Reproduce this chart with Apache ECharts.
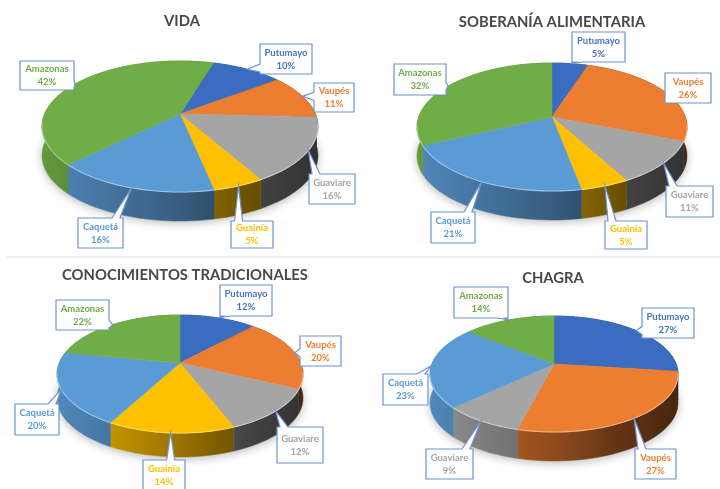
<!DOCTYPE html>
<html><head><meta charset="utf-8">
<style>html,body{margin:0;padding:0;background:#fff}#c{width:720px;height:489px;filter:blur(0.75px)}</style>
<script src="https://cdn.jsdelivr.net/npm/echarts@6/dist/echarts.min.js"></script>
</head><body><div id="c"></div>
<script>
const categories = ['Putumayo','Vaupés','Guaviare','Guainía','Caquetá','Amazonas'];
const vidaValues = [10,11,16,5,16,42];
const soberaniaValues = [5,26,11,5,21,32];
const conocimientosValues = [12,20,12,14,20,22];
const chagraValues = [27,27,9,0,23,14];
const colors = ['#3a6cc0','#ed7d31','#a5a5a5','#ffc000','#5b9bd5','#70ad47'];
const textColors = ['#4472c4','#ed7d31','#a5a5a5','#ffc000','#5b9bd5','#70ad47'];

const panels = [
 {title:'VIDA',tx:182,ty:18,values:vidaValues,ax:180,ay:114,top:61,bottom:192,rx:138,depth:29,start:17,
  boxes:[[260,44,312,74],[314,83,354,112],[309,174,355,204],[231,221,273,248],[78,218,123,248],[20,61,74,90]]},
 {title:'SOBERANÍA ALIMENTARIA',tx:552,ty:19,values:soberaniaValues,ax:552,ay:117,top:63,bottom:191,rx:135,depth:29,start:0,
  boxes:[[572,32,625,62],[665,73,711,103],[666,186,713,217],[605,221,647,249],[431,212,475,243],[394,64,446,95]]},
 {title:'CONOCIMIENTOS TRADICIONALES',tx:185,ty:272,values:conocimientosValues,ax:180,ay:363,top:315,bottom:433,rx:123,depth:24,start:0,
  boxes:[[220,285,272,316],[300,336,341,366],[277,427,323,463],[143,460,185,490],[15,404,59,435],[56,300,109,330]]},
 {title:'CHAGRA',tx:553,ty:275,values:chagraValues,ax:554,ay:364,top:316,bottom:432,rx:124,depth:29,start:0,
  boxes:[[642,308,694,338],[635,449,676,479],[426,449,473,479],[0,0,0,0],[383,374,428,405],[454,287,508,318]]}
];

function project(p,deg){
  const t=deg*Math.PI/180,s=Math.sin(t),c=Math.cos(t);
  const up=p.ay-p.top,dn=p.bottom-p.ay,k=(dn-up)/(dn+up);
  const B=up*(1+k),A=p.rx*Math.sqrt(1-k*k),w=1+k*c;
  return [p.ax+A*s/w,p.ay-B*c/w];
}
function sliceAngles(p,i){
  const total=p.values.reduce((a,b)=>a+b,0);
  let acc=0;for(let j=0;j<i;j++)acc+=p.values[j];
  const a0=p.start+acc/total*360,a1=a0+p.values[i]/total*360;
  return [a0,a1];
}
function arc(p,a0,a1){
  const n=Math.max(2,Math.ceil((a1-a0)/2)),out=[];
  for(let i=0;i<=n;i++)out.push(project(p,a0+(a1-a0)*i/n));
  return out;
}
function scale(hex,f){
  const n=parseInt(hex.slice(1),16);
  const ch=v=>Math.round(v*f);
  return `rgb(${ch(n>>16&255)},${ch(n>>8&255)},${ch(n&255)})`;
}
function mixWhite(hex,f){
  const n=parseInt(hex.slice(1),16);
  const ch=v=>Math.round(v+(255-v)*f);
  return `rgb(${ch(n>>16&255)},${ch(n>>8&255)},${ch(n&255)})`;
}
function sideItem(p){return function(params){
  const i=params.dataIndex;
  if(!p.values[i])return null;
  const [a0,a1]=sliceAngles(p,i);
  const top=arc(p,a0,a1),bot=top.map(q=>[q[0],q[1]+p.depth]).reverse();
  const fill=new echarts.graphic.LinearGradient(p.ax-p.rx,0,p.ax+p.rx,0,[
    {offset:0,color:scale(colors[i],.88)},{offset:.5,color:scale(colors[i],.6)},
    {offset:.75,color:scale(colors[i],.42)},{offset:1,color:scale(colors[i],.3)}],true);
  return {type:'polygon',shape:{points:top.concat(bot)},style:{fill:fill,stroke:fill,lineWidth:.5}};
};}
function topItem(p){return function(params){
  const i=params.dataIndex;
  if(!p.values[i])return null;
  const [a0,a1]=sliceAngles(p,i);
  const pts=arc(p,a0,a1);
  const children=[{type:'polygon',shape:{points:[[p.ax,p.ay]].concat(pts)},style:{fill:colors[i],stroke:colors[i],lineWidth:.5}}];
  const front=pts.filter(q=>q[1]>p.ay+8);
  if(front.length>1)children.push({type:'polyline',shape:{points:front},style:{fill:'none',stroke:mixWhite(colors[i],.4),lineWidth:1.1}});
  return {type:'group',children:children};
};}
function callout(b,tip){
  const [x0,y0,x1,y1]=b,cx=(x0+x1)/2,cy=(y0+y1)/2,hw=(x1-x0)/2,hh=(y1-y0)/2;
  const rx=(tip[0]-cx)/hw,ry=(tip[1]-cy)/hh,half=4;
  const clamp=(v,a,b)=>Math.min(b,Math.max(a,v));
  if(Math.max(Math.abs(rx),Math.abs(ry))<=1)return [[x0,y0],[x1,y0],[x1,y1],[x0,y1]];
  if(Math.abs(ry)>=Math.abs(rx)){
    const m=clamp(tip[0],x0+half+3,x1-half-3);
    return ry<0?[[x0,y0],[m-half,y0],tip,[m+half,y0],[x1,y0],[x1,y1],[x0,y1]]
               :[[x0,y0],[x1,y0],[x1,y1],[m+half,y1],tip,[m-half,y1],[x0,y1]];
  }
  const m=clamp(tip[1],y0+half+2,y1-half-2);
  return rx>0?[[x0,y0],[x1,y0],[x1,m-half],tip,[x1,m+half],[x1,y1],[x0,y1]]
             :[[x0,y0],[x1,y0],[x1,y1],[x0,y1],[x0,m+half],tip,[x0,m-half]];
}
function labelItem(p){return function(params,api){
  const i=params.dataIndex,v=api.value(0);
  if(!v)return null;
  const [a0,a1]=sliceAngles(p,i),tip=project(p,(a0+a1)/2),b=p.boxes[i];
  return {type:'group',children:[
    {type:'polygon',shape:{points:callout(b,tip)},style:{fill:'#fff',stroke:'#6f92d2',lineWidth:1.2}},
    {type:'text',style:{x:(b[0]+b[2])/2,y:(b[1]+b[3])/2,text:categories[i]+'\n'+v+'%',align:'center',verticalAlign:'middle',
      fill:textColors[i],font:'bold 9.5px Lato',lineHeight:13}}
  ]};
};}
const shadow=p=>({type:'custom',coordinateSystem:'none',silent:true,z:1,data:[[1]],renderItem:function(){
  const pts=arc(p,0,360).map(q=>[q[0],q[1]+p.depth]);
  return {type:'polygon',shape:{points:pts},style:{fill:'#fff',shadowColor:'rgba(0,0,0,.28)',shadowBlur:10,shadowOffsetY:2}};
}});
const series=[];
panels.forEach(p=>{
  const data=p.values.map(v=>[v]);
  series.push(shadow(p));
  series.push({type:'custom',coordinateSystem:'none',silent:true,z:2,data:data,renderItem:sideItem(p)});
  series.push({type:'custom',coordinateSystem:'none',silent:true,z:3,data:data,renderItem:topItem(p)});
});
panels.forEach(p=>{
  series.push({type:'custom',coordinateSystem:'none',silent:true,z:5,data:p.values.map(v=>[v]),renderItem:labelItem(p)});
});
const chart=echarts.init(document.getElementById('c'),null,{renderer:'canvas'});
chart.setOption({
  animation:false,backgroundColor:'#fff',
  title:panels.map(p=>({text:p.title,left:p.tx-5,top:p.ty-9,textAlign:'center',
    textStyle:{fontFamily:'Lato',fontWeight:'bold',fontSize:14.8,color:'#484848'}})),
  graphic:[{type:'line',shape:{x1:6,y1:257,x2:720,y2:257},style:{stroke:'#dfe3ea',lineWidth:1.2}}],
  series:series
});
</script></body></html>
